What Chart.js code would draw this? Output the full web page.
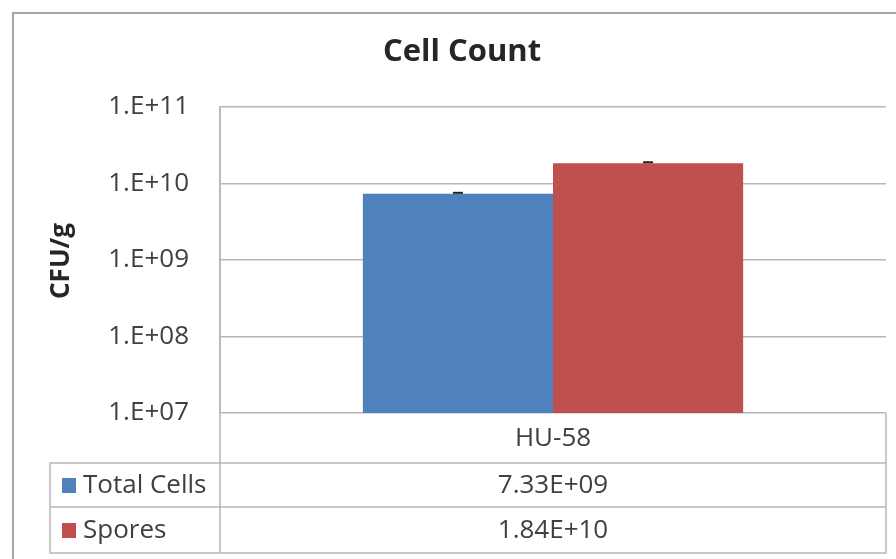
<!DOCTYPE html>
<html>
<head>
<meta charset="utf-8">
<script src="https://cdn.jsdelivr.net/npm/chart.js@4/dist/chart.umd.min.js"></script>
<style>
  body { margin: 0; background: #fff; }
  canvas { display: block; }
</style>
</head>
<body>
<canvas id="cellChart" width="896" height="559"></canvas>
<script>
const categories = ["HU-58"];
const seriesNames = ["Total Cells", "Spores"];
const totalCells = [7.33e9];
const spores = [1.84e10];
const tableText = [["7.33E+09"], ["1.84E+10"]];
const tickValues = [1e7, 1e8, 1e9, 1e10, 1e11];
const tickLabels = ["1.E+07", "1.E+08", "1.E+09", "1.E+10", "1.E+11"];
const colors = ["#4f81bd", "#c0504d"];

const FONT = "'Open Sans', sans-serif";
const LINE = "#b7b7b7";
const TEXT = "#404040";

// frame, title, axis title, data table
const excelBits = {
  id: "excelBits",
  beforeDraw(chart) {
    const c = chart.ctx;
    c.save();
    c.fillStyle = "#fff";
    c.fillRect(0, 0, chart.width, chart.height);
    c.strokeStyle = "#a6a6a6";
    c.lineWidth = 2;
    c.beginPath();
    c.moveTo(13, chart.height);
    c.lineTo(13, 13);
    c.lineTo(chart.width, 13);
    c.stroke();
    c.restore();
  },
  afterDraw(chart) {
    const c = chart.ctx;
    const a = chart.chartArea;
    const x = chart.scales.x;
    const tableLeft = 50;
    const rows = [a.bottom, 463, 507, 553];

    c.save();
    c.fillStyle = "#262626";
    c.textAlign = "center";
    c.textBaseline = "middle";
    c.font = "bold 31px " + FONT;
    c.fillText("Cell Count", 462, 52);

    c.save();
    c.translate(62, 261);
    c.rotate(-Math.PI / 2);
    c.font = "bold 26px " + FONT;
    c.fillText("CFU/g", 0, 0);
    c.restore();

    c.strokeStyle = LINE;
    c.lineWidth = 1.5;
    c.beginPath();
    for (let i = 1; i < rows.length; i++) {
      c.moveTo(tableLeft, rows[i]);
      c.lineTo(a.right, rows[i]);
    }
    c.moveTo(tableLeft, rows[1]);
    c.lineTo(tableLeft, rows[3]);
    c.moveTo(a.left, a.top);
    c.lineTo(a.left, rows[3]);
    c.moveTo(a.right, a.bottom);
    c.lineTo(a.right, rows[3]);
    c.stroke();

    c.font = "26px " + FONT;
    c.fillStyle = TEXT;
    categories.forEach((cat, i) => {
      const cx = x.getPixelForValue(i);
      c.fillText(cat, cx, (rows[0] + rows[1]) / 2 + 1);
      tableText.forEach((r, j) => {
        c.fillText(r[i], cx, (rows[j + 1] + rows[j + 2]) / 2 + 1);
      });
    });

    c.textAlign = "left";
    seriesNames.forEach((name, j) => {
      const cy = (rows[j + 1] + rows[j + 2]) / 2;
      c.fillStyle = colors[j];
      c.fillRect(62, cy - 7, 14, 15);
      c.fillStyle = TEXT;
      c.fillText(name, 83, cy + 1);
    });

    // small error caps on bar tops
    c.strokeStyle = "#222";
    c.lineWidth = 2;
    chart.data.datasets.forEach((ds, j) => {
      chart.getDatasetMeta(j).data.forEach((bar) => {
        c.beginPath();
        c.moveTo(bar.x - 5, bar.y - 1);
        c.lineTo(bar.x + 5, bar.y - 1);
        c.stroke();
      });
    });
    c.restore();
  },
};

new Chart(document.getElementById("cellChart"), {
  type: "bar",
  data: {
    labels: categories,
    datasets: [
      {
        label: seriesNames[0],
        data: totalCells,
        backgroundColor: colors[0],
      },
      {
        label: seriesNames[1],
        data: spores,
        backgroundColor: colors[1],
      },
    ],
  },
  options: {
    responsive: false,
    animation: false,
    layout: { padding: { top: 107, bottom: 146, left: 0, right: 10 } },
    datasets: {
      bar: { barPercentage: 1, categoryPercentage: 0.571 },
    },
    plugins: {
      legend: { display: false },
      title: { display: false },
      tooltip: { enabled: false },
    },
    scales: {
      x: { display: false },
      y: {
        type: "logarithmic",
        min: tickValues[0],
        max: tickValues[tickValues.length - 1],
        afterFit(scale) {
          scale.width = 220;
        },
        afterBuildTicks(scale) {
          scale.ticks = tickValues.map((v) => ({ value: v }));
        },
        ticks: {
          padding: 31,
          color: TEXT,
          font: { family: FONT, size: 26 },
          callback: (v) => tickLabels[tickValues.indexOf(v)],
        },
        grid: { color: LINE, lineWidth: 1.5, drawTicks: false },
        border: { display: true, color: LINE, width: 1.5 },
      },
    },
  },
  plugins: [excelBits],
});
</script>
</body>
</html>
